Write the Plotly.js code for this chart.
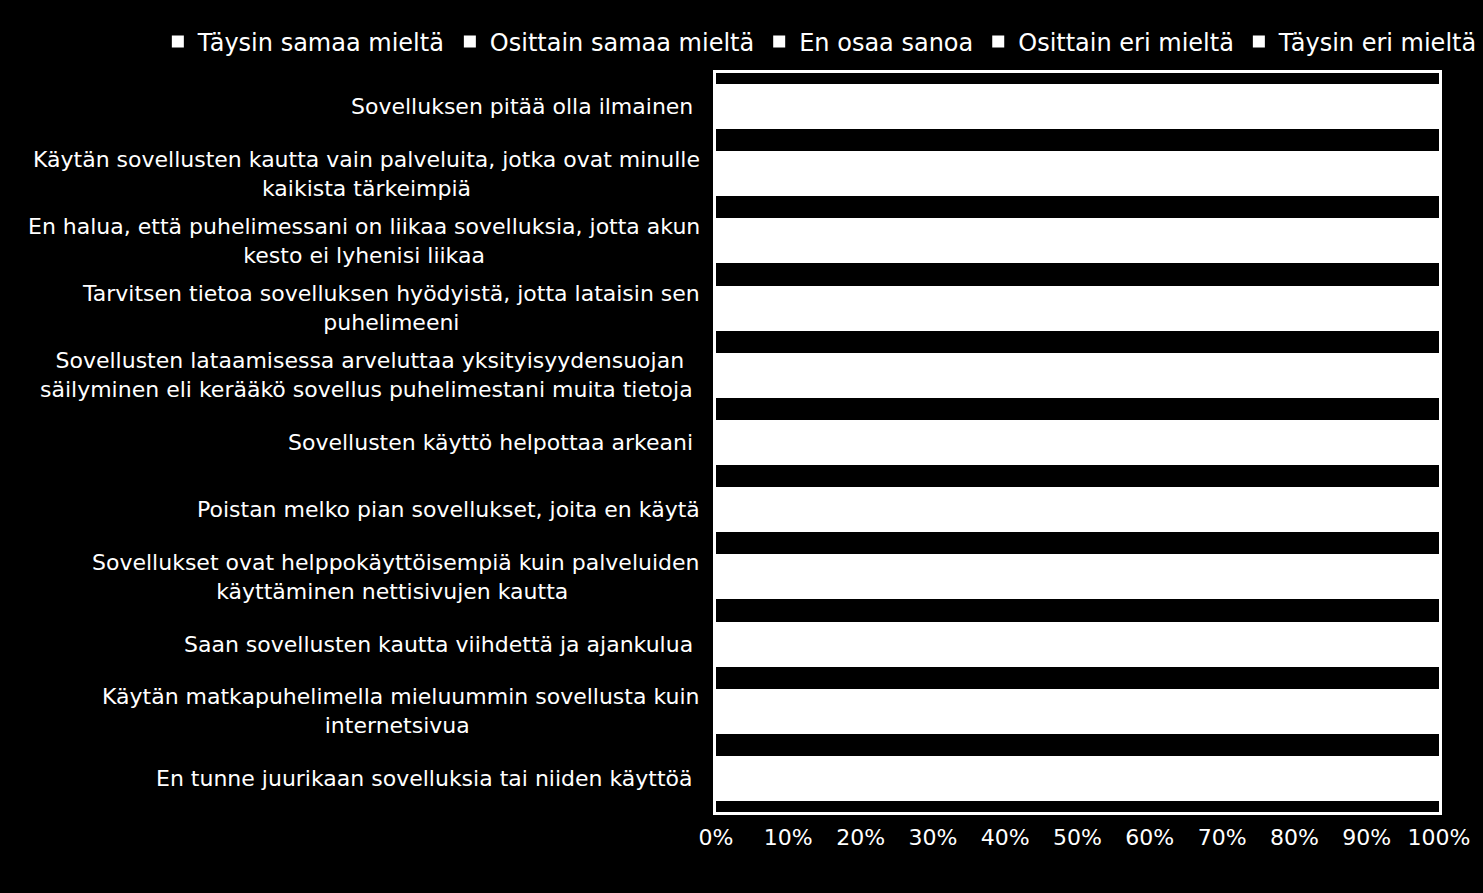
<!DOCTYPE html>
<html>
<head>
<meta charset="utf-8">
<script src="https://cdn.plot.ly/plotly-3.0.1.min.js"></script>
<style>html,body{margin:0;padding:0;background:#000;}#chart{width:1483px;height:893px;}</style>
</head>
<body>
<div id="chart"></div>
<script>
// Statements (top to bottom); <br> marks the line breaks seen in the picture
var statements = [
  "Sovelluksen pitää olla ilmainen\u00a0",
  "Käytän sovellusten kautta vain palveluita, jotka ovat minulle<br>kaikista tärkeimpiä",
  "En halua, että puhelimessani on liikaa sovelluksia, jotta akun<br>kesto ei lyhenisi liikaa",
  "Tarvitsen tietoa sovelluksen hyödyistä, jotta lataisin sen<br>puhelimeeni",
  "Sovellusten lataamisessa arveluttaa yksityisyydensuojan<br>säilyminen eli kerääkö sovellus puhelimestani muita tietoja\u00a0",
  "Sovellusten käyttö helpottaa arkeani\u00a0",
  "Poistan melko pian sovellukset, joita en käytä",
  "Sovellukset ovat helppokäyttöisempiä kuin palveluiden<br>käyttäminen nettisivujen kautta\u00a0",
  "Saan sovellusten kautta viihdettä ja ajankulua\u00a0",
  "Käytän matkapuhelimella mieluummin sovellusta kuin<br>internetsivua\u00a0",
  "En tunne juurikaan sovelluksia tai niiden käyttöä\u00a0"
];

var seriesNames = ["Täysin samaa mieltä", "Osittain samaa mieltä", "En osaa sanoa", "Osittain eri mieltä", "Täysin eri mieltä"];

// Shares in percent (segments are all drawn white in the original, so the split is not visible)
var taysinSamaa   = [42, 30, 28, 33, 35, 38, 45, 36, 34, 30,  5];
var osittainSamaa = [36, 42, 34, 40, 35, 42, 32, 38, 42, 34, 10];
var enOsaa        = [ 8, 10, 12, 10, 12,  8,  6, 12,  8, 14,  5];
var osittainEri   = [10, 13, 18, 12, 13,  8, 12, 10, 11, 15, 25];
var taysinEri     = [ 4,  5,  8,  5,  5,  4,  5,  4,  5,  7, 55];

var xTicks = [0, 10, 20, 30, 40, 50, 60, 70, 80, 90, 100];

var seriesValues = [taysinSamaa, osittainSamaa, enOsaa, osittainEri, taysinEri];
var fontFamily = "DejaVu Sans, Verdana, sans-serif";

var traces = seriesNames.map(function (name, i) {
  return {
    type: "bar",
    orientation: "h",
    name: name,
    x: seriesValues[i],
    y: statements,
    marker: {color: "#ffffff", line: {width: 0}},
    hoverinfo: "skip"
  };
});

var annotations = statements.map(function (s) {
  return {
    text: s,
    xref: "paper", x: 0, xanchor: "right", xshift: -14,
    yref: "y", y: s, yanchor: "middle",
    align: "center",
    showarrow: false,
    font: {family: fontFamily, size: 22, color: "#ffffff"}
  };
});

var layout = {
  width: 1483, height: 893,
  paper_bgcolor: "#000000",
  plot_bgcolor: "#000000",
  margin: {l: 716, r: 44, t: 73, b: 81},
  barmode: "stack",
  bargap: 0.33,
  showlegend: true,
  legend: {
    orientation: "h",
    x: -0.772, xanchor: "left",
    y: 1.042, yanchor: "middle",
    font: {family: fontFamily, size: 24, color: "#ffffff"},
    bgcolor: "rgba(0,0,0,0)",
    traceorder: "normal",
    itemwidth: 30
  },
  xaxis: {
    range: [0, 100],
    tickvals: xTicks,
    ticktext: xTicks.map(function (v) { return v + "%"; }),
    showgrid: false, zeroline: false,
    showline: true, mirror: true, linecolor: "#ffffff", linewidth: 3,
    ticks: "", ticklen: 0,
    ticklabelstandoff: 4,
    tickfont: {family: fontFamily, size: 22, color: "#ffffff"}
  },
  yaxis: {
    type: "category",
    categoryorder: "array",
    categoryarray: statements,
    autorange: "reversed",
    showticklabels: false,
    showgrid: false, zeroline: false,
    showline: true, mirror: true, linecolor: "#ffffff", linewidth: 3,
    ticks: ""
  },
  annotations: annotations
};

Plotly.newPlot("chart", traces, layout, {staticPlot: true, displayModeBar: false});
</script>
</body>
</html>
